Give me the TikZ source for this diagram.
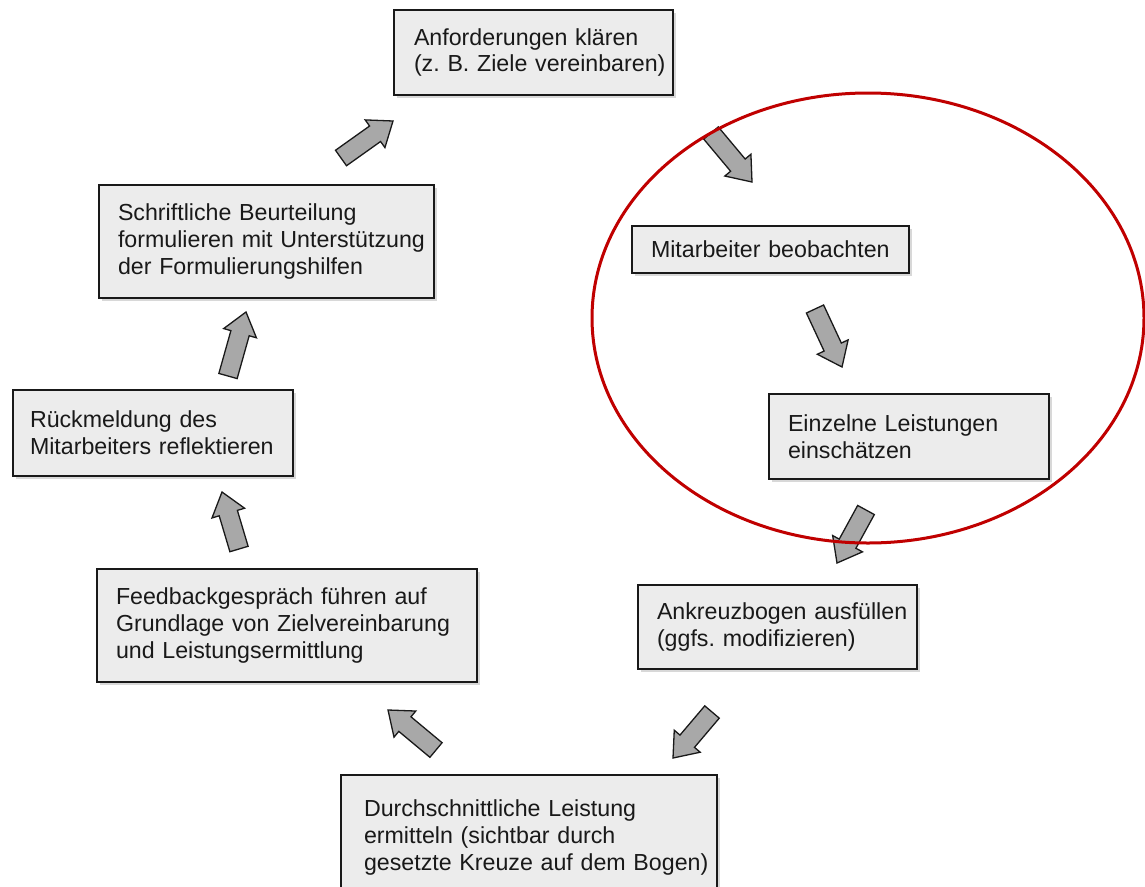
\documentclass[tikz,border=0pt]{standalone}
\usepackage{fontspec}
\setmainfont{Liberation Sans}
\usetikzlibrary{calc,shadows}
\definecolor{boxfill}{RGB}{236,236,236}
\definecolor{arrfill}{RGB}{168,168,168}
\definecolor{ink}{RGB}{25,25,25}
\definecolor{ovalred}{RGB}{192,0,0}
\frenchspacing
\hbadness=10000 \hfuzz=200pt
\tikzset{
  box/.style={draw=ink, line width=1.4pt, fill=boxfill,
    drop shadow={shadow xshift=2.5pt, shadow yshift=-3pt, opacity=0.3},
    align=left, inner xsep=19pt, inner ysep=0pt, anchor=center,
    font=\fontsize{23.2}{26.7}\selectfont, text=ink},
  blockarrow/.style={draw=ink, line width=1.3pt, fill=arrfill, line join=miter},
  oval/.style={draw=ovalred, line width=3pt},
}
\newcommand\oneline[1]{\mbox{#1}}
\newcommand\blockarr[2]{%
  \draw[blockarrow] let \p1=(#1), \p2=(#2),
      \n1={atan2(\y2-\y1,\x2-\x1)},
      \p3=($(\p2)!22pt!(\p1)$) in
    ($(\p1)+({\n1+90}:9.5pt)$) -- ($(\p3)+({\n1+90}:9.5pt)$) --
    ($(\p3)+({\n1+90}:17pt)$) -- (\p2) --
    ($(\p3)+({\n1-90}:17pt)$) -- ($(\p3)+({\n1-90}:9.5pt)$) --
    ($(\p1)+({\n1-90}:9.5pt)$) -- cycle;}
\begin{document}
\begin{tikzpicture}[x=1pt, y=-1pt]
  \useasboundingbox[fill=white] (0,0) rectangle (1145,886);

  \node[box, minimum width=279pt, minimum height=85pt, text width=239pt, inner xsep=20pt] (anf) at (533.5,52.5)
    {\oneline{Anforderungen klären}\\\oneline{(z. B. Ziele vereinbaren)}};
  \node[box, minimum width=277pt, minimum height=47pt, text width=239pt] (mit) at (770.5,249.5)
    {\oneline{Mitarbeiter beobachten}};
  \node[box, minimum width=280pt, minimum height=85pt, text width=242pt] (ein) at (909,436.5)
    {\oneline{Einzelne Leistungen}\\\oneline{einschätzen}};
  \node[box, minimum width=279pt, minimum height=84pt, text width=241pt] (ank) at (777.5,627)
    {\oneline{Ankreuzbogen ausfüllen}\\\oneline{(ggfs. modifizieren)}};
  \node[box, minimum width=376pt, minimum height=125pt, inner xsep=23pt, text width=330pt] (dur) at (529,837.5)
    {\oneline{Durchschnittliche Leistung}\\\oneline{ermitteln (sichtbar durch}\\\oneline{gesetzte Kreuze auf dem Bogen)}};
  \node[box, minimum width=380pt, minimum height=113pt, text width=342pt] (fee) at (287,625.5)
    {\oneline{Feedbackgespräch führen auf}\\\oneline{Grundlage von Zielvereinbarung}\\\oneline{und Leistungsermittlung}};
  \node[box, minimum width=280pt, minimum height=86pt, text width=246pt, inner xsep=17pt] (rue) at (153,433)
    {\oneline{Rückmeldung des}\\\oneline{Mitarbeiters reflektieren}};
  \node[box, minimum width=335pt, minimum height=113pt, text width=297pt] (sch) at (266.5,241.5)
    {\oneline{Schriftliche Beurteilung}\\\oneline{formulieren mit Unterstützung}\\\oneline{der Formulierungshilfen}};

  % arrow end points
  \coordinate (schT) at (341,158);  \coordinate (anfH) at (393,121);
  \coordinate (anfT) at (711,133);  \coordinate (mitH) at (752,182);
  \coordinate (mitT) at (815,309);  \coordinate (einH) at (842,367);
  \coordinate (einT) at (866,510);  \coordinate (ankH) at (837,563);
  \coordinate (ankT) at (712,712);  \coordinate (durH) at (673,758);
  \coordinate (durT) at (436,750);  \coordinate (feeH) at (388,710);
  \coordinate (feeT) at (239,549);  \coordinate (rueH) at (222,492);
  \coordinate (rueT) at (228,376);  \coordinate (schH) at (246,312);

  \blockarr{schT}{anfH}
  \blockarr{anfT}{mitH}
  \blockarr{mitT}{einH}
  \blockarr{einT}{ankH}
  \blockarr{ankT}{durH}
  \blockarr{durT}{feeH}
  \blockarr{feeT}{rueH}
  \blockarr{rueT}{schH}

  \draw[oval] (868,318) ellipse [x radius=276, y radius=225];
\end{tikzpicture}
\end{document}
